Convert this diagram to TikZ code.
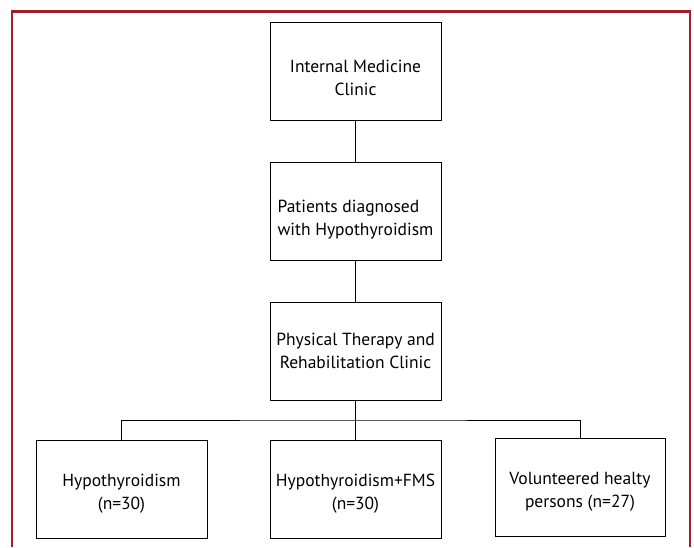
\documentclass[tikz,border=0pt]{standalone}
\usepackage{fontspec}
\setmainfont{PT Sans}
\usepackage{tikz}
\usetikzlibrary{positioning,calc}
\definecolor{frameRed}{RGB}{160,32,42}
\newcommand{\topgap}[2]{\raisebox{0pt}[#1]{#2}}

\begin{document}
\begin{tikzpicture}[x=1pt, y=-1pt,
    box/.style={draw, line width=0.8pt, minimum width=171pt, minimum height=98pt,
        align=center, inner sep=2pt, font=\fontsize{17.5}{23}\selectfont},
    link/.style={line width=0.8pt}]
    \useasboundingbox (0,0) rectangle (694,547);

    % Frame
    \draw[frameRed, line width=2.5pt] (12,547) -- (12,11.5) -- (690,11.5) -- (690,547);

    % Main column
    \node[box] (clinic) at (355.5,71) {\topgap{27pt}{Internal Medicine}\\Clinic};
    \node[box, align=left] (patients) at (355.5,211) {\topgap{29pt}{Patients diagnosed}\\with Hypothyroidism};
    \node[box] (rehab) at (355.5,351) {Physical Therapy and\\Rehabilitation Clinic};

    % Groups
    \node[box] (hypo) at (121.5,489) {\topgap{21pt}{Hypothyroidism}\\(n=30)};
    \node[box] (hypofms) at (355.5,489) {\topgap{21pt}{Hypothyroidism+FMS}\\(n=30)};
    \node[box, minimum width=170pt] (healthy) at (580,487) {\topgap{21pt}{Volunteered healty}\\persons (n=27)};

    % Connectors
    \draw[link] (clinic) -- (patients);
    \draw[link] (patients) -- (rehab);
    \draw[link] (rehab) -- (hypofms);
    \coordinate (split) at ($(rehab.south)!0.5!(hypofms.north)$);
    \draw[link] (hypo.north) |- (split) -| (healthy.north);
\end{tikzpicture}
\end{document}
